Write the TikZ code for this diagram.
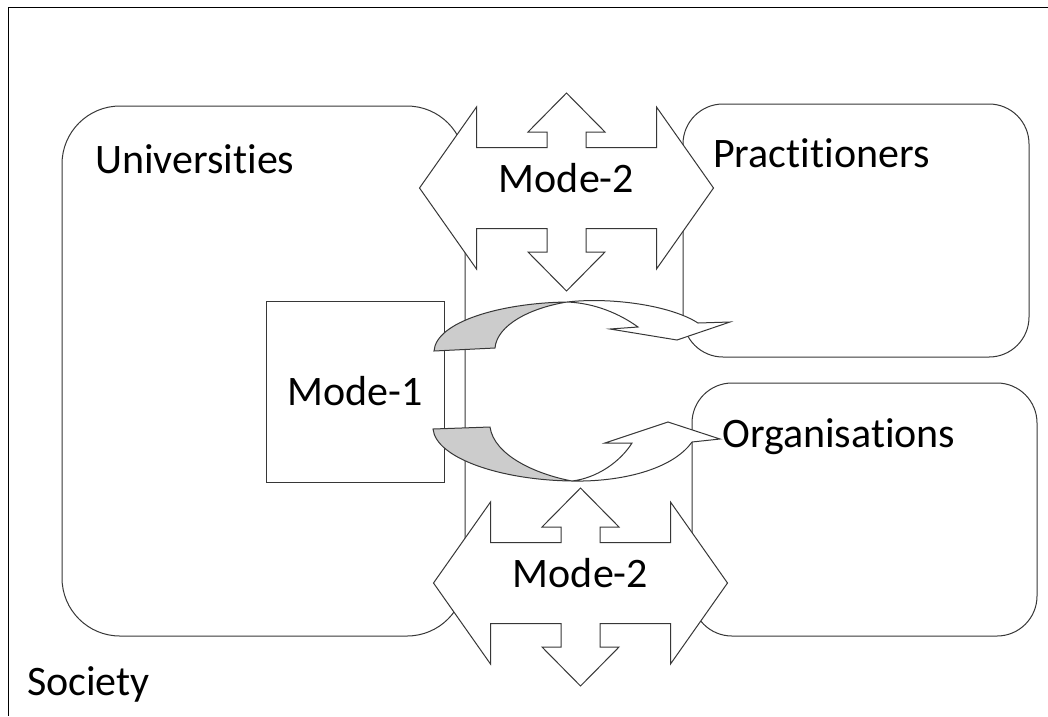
\documentclass[tikz,border=0pt]{standalone}
\usepackage{fontspec}
\setmainfont{Carlito}[Ligatures=NoCommon]
\usepackage{tikz}
\usetikzlibrary{positioning}
\definecolor{edge}{RGB}{55,55,55}
\definecolor{shade}{RGB}{204,204,204}
\tikzstyle{party} = [rectangle, draw=edge, line width=1pt, fill=white, inner sep=0pt]
\tikzstyle{tlabel} = [draw=none, fill=none, inner sep=0pt, font=\fontsize{42}{50}\selectfont]
\tikzstyle{blockarr} = [draw=edge, line width=1pt, fill=white, line join=miter]
\tikzstyle{backside} = [draw=edge, line width=1pt, fill=shade]
\newcommand{\modearrow}[1]{%
  \draw[blockarr, shift={#1}] (-147,0) -- (-90,-81) -- (-90,-40.5) -- (-19.5,-40.5)
    -- (-19.5,-56) -- (-38.5,-56) -- (0,-95) -- (38.5,-56) -- (19.5,-56) -- (19.5,-40.5)
    -- (90,-40.5) -- (90,-81) -- (147,0) -- (90,81) -- (90,40.5) -- (19.5,40.5)
    -- (19.5,64) -- (38.5,64) -- (0,103) -- (-38.5,64) -- (-19.5,64) -- (-19.5,40.5)
    -- (-90,40.5) -- (-90,81) -- cycle;}

\begin{document}
\begin{tikzpicture}[x=1pt, y=-1pt]
\useasboundingbox (0,0) rectangle (1048,716);

% society frame ==========================
\draw[black, line width=1pt] (1048,7) -- (8,7) -- (8,716);

% groups =================================
\node[party, rounded corners=58pt, minimum width=403pt, minimum height=530pt] (univ) at (263.5,371) {};
\node[party, rounded corners=40pt, minimum width=346pt, minimum height=253pt] (pract) at (856,230.5) {};
\node[party, rounded corners=40pt, minimum width=345pt, minimum height=253pt] (org) at (864.5,509.5) {};
\node[party, minimum width=178pt, minimum height=181pt, font=\fontsize{42}{50}\selectfont] (modeone) at (355,391.5) {Mode-1};

% curved arrows out of mode-1
\draw[backside] (434,351) .. controls (436,322) and (500,303) .. (567,302)
  .. controls (530,308) and (497,325) .. (495,348) -- cycle;
\draw[blockarr] (567,302) .. controls (610,297) and (670,305) .. (698,323)
  -- (730,322) -- (677,340) -- (610,329) -- (638,327)
  .. controls (620,314) and (595,303) .. (567,302) -- cycle;

\draw[backside] (433,429) .. controls (436,458) and (500,480) .. (572,481)
  .. controls (535,474) and (494,455) .. (490,427) -- cycle;
\draw[blockarr] (572,481) .. controls (620,482) and (672,470) .. (692,442)
  -- (720,439) -- (668,422) -- (605,443) -- (632,443)
  .. controls (620,462) and (597,478) .. (572,481) -- cycle;

% mode-2 exchange arrows
\modearrow{(566.5,188)}
\modearrow{(580.5,583)}
\node[tlabel, anchor=base] (mtwotop) at (566.5,192) {Mode-2};
\node[tlabel, anchor=base] (mtwobot) at (580.5,587) {Mode-2};

% labels
\node[tlabel, anchor=base west] (univtext) at (95,173) {Universities};
\node[tlabel, anchor=base west] (practtext) at (713,167) {Practitioners};
\node[tlabel, anchor=base west] (orgtext) at (722,447) {Organisations};
\node[tlabel, anchor=base west] (soctext) at (27,695) {Society};

\end{tikzpicture}
\end{document}
